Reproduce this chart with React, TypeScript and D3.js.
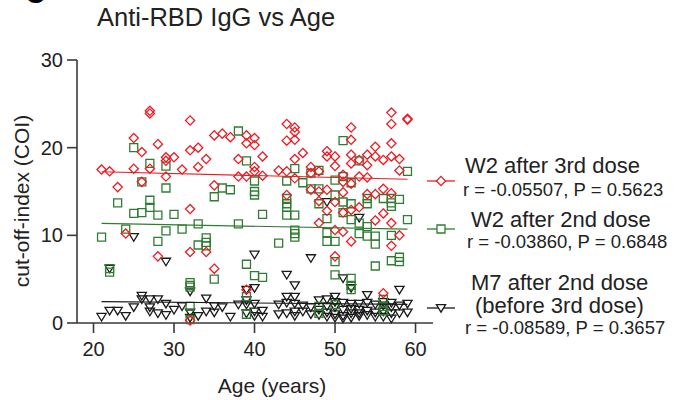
import React from "react";
import * as d3 from "d3";

// ---- data (age, cut-off index) ----
const redAge = [27,27,32,25,28,26,32,33,35,36,37,29,30,29,34,38,21,22,25,27,31,33,29,38,23,35,
  26,32,24,28,32,34,35,32,
  57,57,59,59,44,45,45,44,45,52,52,39,40,39,40,55,57,41,46,49,49,50,52,52,54,55,56,57,58,45,53,40,40,43,44,47,50,54,58,39,41,45,47,48,53,54,51,
  47,48,49,51,52,44,48,50,51,54,55,56,57,52,53,51,49,56,55,57,48,50,51,52,58,57,50,39,56];
const redVal = [24.2,23.9,23.1,21.1,20.4,19.5,19.7,20.0,21.4,21.6,21.2,18.9,18.9,18.5,18.7,18.7,17.5,17.3,17.6,17.6,17.5,17.8,16.7,16.7,15.5,15.7,
  16.1,13.0,10.2,7.6,8.1,8.1,6.2,0.3,
  24.0,22.7,23.2,23.3,22.7,22.3,21.8,20.8,20.9,22.3,20.9,21.4,21.1,20.5,20.3,20.1,20.5,19.0,19.4,19.6,19.0,19.0,19.2,18.2,19.2,19.0,18.6,19.0,18.7,18.7,18.6,17.8,17.3,17.4,17.3,17.8,17.9,18.0,17.4,16.7,16.8,16.5,17.1,17.3,16.7,16.6,16.9,
  15.2,15.0,15.2,16.1,15.9,14.6,13.9,13.8,14.9,14.7,14.7,15.3,14.8,12.9,13.2,12.6,12.8,12.5,11.7,11.4,11.4,10.6,10.4,9.3,10.0,8.8,7.6,3.8,3.4];

const greenAge = [25,27,29,26,38,29,36,37,
  39,51,53,59,45,48,40,44,46,47,50,51,52,47,48,
  35,23,25,26,27,27,28,30,24,21,29,31,33,38,28,33,34,34,34,22,22,35,32,32,32,32,32,
  40,40,44,44,44,44,45,41,48,49,50,51,51,52,52,53,53,54,54,55,55,57,54,54,56,57,57,57,58,59,49,49,50,45,45,45,43,39,40,41,50,50,52,52,52,55,57,58,58,39,39,48,48,50,56,56,56];
const greenVal = [20.0,18.2,17.9,16.1,21.9,15.4,15.4,15.2,
  18.5,20.8,18.5,17.3,17.6,17.4,16.2,16.2,16.0,17.1,16.3,16.7,16.0,15.3,15.3,
  14.4,13.7,12.5,12.6,14.0,13.2,12.3,12.4,10.7,9.8,10.5,10.7,11.3,11.3,9.3,8.9,9.7,9.2,8.8,6.2,5.8,5.0,4.6,4.3,4.1,1.9,0.4,
  15.0,14.6,14.2,13.6,13.2,12.3,12.3,12.4,13.6,11.9,14.6,13.8,12.6,13.6,11.8,11.4,10.2,11.0,9.9,9.9,9.0,10.0,14.2,13.6,14.2,14.2,13.7,13.3,14.1,11.8,10.3,9.3,9.3,10.6,10.2,9.8,9.1,6.7,5.4,5.2,7.0,5.5,5.1,4.3,3.8,6.5,7.1,7.5,7.0,3.0,1.0,1.9,1.1,2.1,2.7,1.9,1.4];

const blackAge = [49,53,25,29,40,47,22,44,45,51,52,40,39,32,58,54,44,45,50,26,26,27,28,34,
  21,22,23,24,25,27,27,28,29,30,29,31,32,33,34,35,35,36,37,38,39,39,
  40,40,41,41,43,44,45,46,45,47,48,49,49,49,50,50,51,51,52,52,52,53,53,54,54,55,55,56,57,57,58,59,59,48,48,56,56,
  50,51,53,57,32,49,50,51,52,53,54,55,56,57,58,47,46,44,43,39,40,45];
const blackVal = [13.8,12.0,9.8,7.0,7.8,7.4,6.2,5.5,4.3,5.1,4.0,4.0,3.8,3.6,3.8,3.2,3.0,3.0,3.0,3.1,2.7,2.7,2.7,2.8,
  0.7,1.4,1.4,0.8,1.8,1.8,1.3,1.1,0.9,1.5,2.2,1.9,1.2,0.8,1.3,1.9,1.2,1.8,0.7,2.1,2.1,1.1,
  2.2,1.3,1.4,0.7,2.1,1.1,1.3,1.3,2.2,1.8,2.6,2.7,1.9,1.2,1.8,1.0,2.3,1.5,2.2,1.1,0.6,1.5,0.8,2.3,1.4,2.1,1.2,0.7,1.1,0.5,2.0,2.2,1.2,1.5,0.9,2.0,1.3,
  0.6,0.8,2.2,1.8,0.6,0.7,2.4,0.5,1.6,1.1,0.9,0.7,2.4,2.3,1.1,1.0,2.0,2.3,1.0,2.6,0.8,0.8];

// regression fits: values at the end ages
const fitAges = [21, 59];
const redFit = [17.25, 16.4];
const greenFit = [11.37, 10.7];
const blackFit = [2.43, 2.13];

const xTicks = [20, 30, 40, 50, 60];
const yTicks = [0, 10, 20, 30];

const legendLabels = ["W2 after 3rd dose", "W2 after 2nd dose", "M7 after 2nd dose", "(before 3rd dose)"];
const statLabels = ["r = -0.05507, P = 0.5623", "r = -0.03860, P = 0.6848", "r = -0.08589, P = 0.3657"];

const RED = "#ec1c24";
const GREEN = "#2e7d32";
const BLACK = "#1a1a1a";
const AXIS = "#3a3a3a";
const FONT = "Arial, 'Liberation Sans', Helvetica, sans-serif";

const diamond = "M0,-4.6L4.6,0L0,4.6L-4.6,0Z";
const square = "M-4,-4H4V4H-4Z";
const triangle = "M-4.6,-3.4L4.6,-3.4L0,4.2Z";

export default function App() {
  const x = d3.scaleLinear().domain([17.95, 62.17]).range([77, 433]);
  const y = d3.scaleLinear().domain([0, 30]).range([323, 60]);
  const line = d3.line<[number, number]>().x((d) => x(d[0])).y((d) => y(d[1]));

  const series = [
    { ages: blackAge, vals: blackVal, path: triangle, color: BLACK, fit: blackFit },
    { ages: greenAge, vals: greenVal, path: square, color: GREEN, fit: greenFit },
    { ages: redAge, vals: redVal, path: diamond, color: RED, fit: redFit },
  ];

  return (
    <svg width={675} height={400} style={{ position: "absolute", left: 0, top: 0, background: "#fff" }} fontFamily={FONT}>
      <rect width={675} height={400} fill="#fff" />
      <text x={35} y={3} textAnchor="middle" fontSize={28} fontWeight="bold" fill="#000">C</text>
      <text x={97} y={26} fontSize={25.5} fill="#222">Anti-RBD IgG vs Age</text>

      {/* axes */}
      <line x1={77} x2={77} y1={y(30)} y2={323} stroke={AXIS} strokeWidth={1.6} />
      <line x1={77} x2={433} y1={323} y2={323} stroke={AXIS} strokeWidth={1.6} />
      {yTicks.map((t) => (
        <g key={"y" + t}>
          <line x1={67} x2={77} y1={y(t)} y2={y(t)} stroke={AXIS} strokeWidth={1.6} />
          <text x={63} y={y(t) + 7} textAnchor="end" fontSize={20} fill="#222">{t}</text>
        </g>
      ))}
      {xTicks.map((t) => (
        <g key={"x" + t}>
          <line x1={x(t)} x2={x(t)} y1={323} y2={333} stroke={AXIS} strokeWidth={1.6} />
          <text x={x(t)} y={356} textAnchor="middle" fontSize={20} fill="#222">{t}</text>
        </g>
      ))}
      <text x={272} y={393} textAnchor="middle" fontSize={21} fill="#222">Age (years)</text>
      <text transform="translate(29,201) rotate(-90)" textAnchor="middle" fontSize={21} fill="#222">cut-off-index (COI)</text>

      {/* points */}
      {series.map((s, si) => (
        <g key={"s" + si}>
          {s.ages.map((a, i) => (
            <path key={i} d={s.path} transform={`translate(${x(a)},${y(s.vals[i])})`} fill="none" stroke={s.color} strokeWidth={1.3} />
          ))}
        </g>
      ))}
      {series.map((s, si) => (
        <path key={"f" + si} d={line(fitAges.map((a, i) => [a, s.fit[i]]) as [number, number][]) || ""} fill="none" stroke={s.color} strokeWidth={1.2} />
      ))}

      {/* legend */}
      {[
        { yy: 181, path: diamond, color: RED },
        { yy: 229, path: square, color: GREEN },
        { yy: 308, path: triangle, color: BLACK },
      ].map((l, i) => (
        <g key={"l" + i}>
          <line x1={427} x2={455} y1={l.yy} y2={l.yy} stroke={l.color} strokeWidth={1.3} />
          <path d={l.path} transform={`translate(441,${l.yy})`} fill="#fff" stroke={l.color} strokeWidth={1.3} />
        </g>
      ))}
      <text x={465} y={173} fontSize={22} fill="#222">{legendLabels[0]}</text>
      <text x={463} y={196} fontSize={18.5} fill="#222">{statLabels[0]}</text>
      <text x={471} y={227} fontSize={22} fill="#222">{legendLabels[1]}</text>
      <text x={467} y={248} fontSize={18.5} fill="#222">{statLabels[1]}</text>
      <text x={471} y={290} fontSize={22} fill="#222">{legendLabels[2]}</text>
      <text x={475} y={313} fontSize={22} fill="#222">{legendLabels[3]}</text>
      <text x={465} y={334} fontSize={18.5} fill="#222">{statLabels[2]}</text>
    </svg>
  );
}
